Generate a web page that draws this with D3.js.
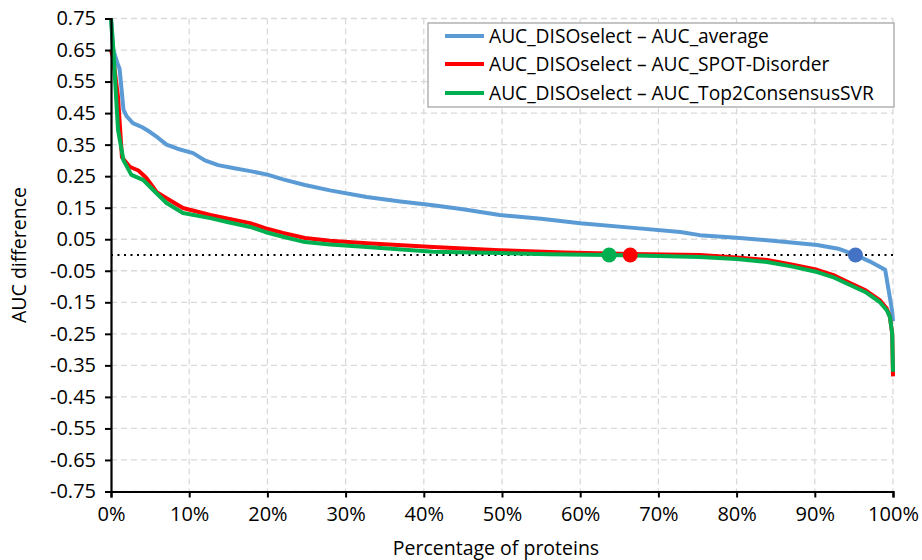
<!DOCTYPE html>
<html><head><meta charset="utf-8">
<script src="https://cdn.jsdelivr.net/npm/d3@7"></script>
<style>body{margin:0;background:#fff;} text{font-family:"Open Sans",sans-serif;fill:#000;}</style>
</head><body>
<svg id="chart" width="922" height="560"></svg>
<script>
// ---- data ----
const yTicks = [0.75,0.65,0.55,0.45,0.35,0.25,0.15,0.05,-0.05,-0.15,-0.25,-0.35,-0.45,-0.55,-0.65,-0.75];
const xTicks = [0,10,20,30,40,50,60,70,80,90,100];
const seriesNames = ["AUC_DISOselect – AUC_average","AUC_DISOselect – AUC_SPOT-Disorder","AUC_DISOselect – AUC_Top2ConsensusSVR"];
const seriesColors = ["#5B9BD5","#FF0000","#00B050"];
const dotColors = ["#4472C4","#FF0000","#00B050"];

const blueX = [0,0.3,0.8,1.1,1.6,2.0,2.8,4.0,5.0,6.0,7.1,8.5,10.5,12.0,13.7,15.6,17.8,20,22,24.8,28,32.7,37,41.2,45,49.7,55,60,66.8,72.8,75.3,80,83.9,87,90.3,93,95.2,97,99,99.5,99.9,100];
const blueY = [0.75,0.65,0.61,0.59,0.46,0.44,0.418,0.405,0.39,0.372,0.350,0.337,0.323,0.30,0.285,0.276,0.266,0.255,0.24,0.222,0.205,0.184,0.17,0.158,0.145,0.127,0.115,0.101,0.086,0.073,0.063,0.055,0.047,0.04,0.032,0.02,0.0,-0.02,-0.047,-0.12,-0.18,-0.21];

const redX = [0,0.3,0.9,1.4,2.4,3.5,4.5,5.9,7.1,9.2,12.7,15,17.8,19.7,22,24.8,28,32.7,41.2,49.7,58,66.4,75.3,80,83.9,87,90.3,92.5,94.5,96.5,98.3,99.2,99.6,99.9,100];
const redY = [0.65,0.62,0.50,0.31,0.28,0.268,0.245,0.198,0.18,0.149,0.127,0.115,0.101,0.085,0.07,0.054,0.045,0.037,0.025,0.015,0.008,0.003,0.0,-0.008,-0.016,-0.03,-0.047,-0.065,-0.089,-0.112,-0.143,-0.17,-0.196,-0.25,-0.385];

const greenX = [0,0.3,0.9,1.6,2.6,4.1,5.4,7.1,9.2,12.7,15,17.8,19.7,22,24.8,28,32.7,41.2,49.7,56,63.7,70,75.3,80,83.9,87,90.3,92.5,94.5,96.5,98.3,99.2,99.6,99.9,100];
const greenY = [0.75,0.65,0.396,0.30,0.254,0.238,0.206,0.165,0.133,0.117,0.104,0.089,0.073,0.058,0.041,0.033,0.025,0.01,0.006,0.002,0.0,-0.003,-0.006,-0.013,-0.022,-0.036,-0.054,-0.072,-0.095,-0.118,-0.149,-0.175,-0.196,-0.25,-0.37];

const dotX = [95.2,66.4,63.7];
const dotY = [0,0,0];

// ---- layout ----
const svg = d3.select("#chart");
const L = 111, R = 893, T = 18.5, B = 491.5;
const x = d3.scaleLinear().domain([0,100]).range([L,R]);
const y = d3.scaleLinear().domain([-0.75,0.75]).range([B,T]);

// grid
const grid = svg.append("g");
grid.selectAll("line.h").data(yTicks).join("line")
  .attr("x1",L).attr("x2",R).attr("y1",d=>y(d)).attr("y2",d=>y(d))
  .attr("stroke","#D9D9D9").attr("stroke-width",1.3).attr("stroke-dasharray","6,4");
grid.selectAll("line.v").data(xTicks.filter(d=>d>0)).join("line")
  .attr("x1",d=>x(d)).attr("x2",d=>x(d)).attr("y1",T).attr("y2",B)
  .attr("stroke","#D9D9D9").attr("stroke-width",1.3).attr("stroke-dasharray","6,4");

// zero dotted line
svg.append("line").attr("x1",L).attr("x2",R).attr("y1",y(0)).attr("y2",y(0))
  .attr("stroke","#000").attr("stroke-width",2).attr("stroke-dasharray","2,4.5");

// series
const series = [[blueX,blueY],[redX,redY],[greenX,greenY]];
const line = d3.line().x(d=>x(d[0])).y(d=>y(d[1]));
series.forEach((s,i)=>{
  const pts = s[0].map((v,j)=>[v,s[1][j]]);
  svg.append("path").datum(pts).attr("d",line).attr("fill","none")
    .attr("stroke",seriesColors[i]).attr("stroke-width",4).attr("stroke-linejoin","round");
});

// dots
svg.selectAll("circle.dot").data(dotX.map((v,i)=>[v,dotY[i],i])).join("circle")
  .attr("cx",d=>x(d[0])).attr("cy",d=>y(d[1])).attr("r",7.5).attr("fill",d=>dotColors[d[2]]);

// axes
const yAxis = d3.axisLeft(y).tickValues(yTicks).tickSize(6).tickFormat(d3.format(".2f"));
const gy = svg.append("g").attr("transform",`translate(${L},0)`).call(yAxis);
const xAxis = d3.axisBottom(x).tickValues(xTicks).tickSize(6).tickFormat(d=>d+"%");
const gx = svg.append("g").attr("transform",`translate(0,${B})`).call(xAxis);
[gx,gy].forEach(g=>{
  g.select(".domain").attr("stroke","#000").attr("stroke-width",2.2);
  g.selectAll(".tick line").attr("stroke","#000").attr("stroke-width",2);
  g.selectAll(".tick text").style("font-family","'Open Sans',sans-serif").style("font-size","20px").attr("fill","#000");
});
gy.selectAll(".tick text").attr("x",-15).text(d=>d3.format(".2f")(d).replace("−","-"));
gx.selectAll(".tick text").attr("y",15);

// axis titles
svg.append("text").attr("x",(L+R)/2-6).attr("y",555).attr("text-anchor","middle")
  .style("font-size","19.5px").text("Percentage of proteins");
svg.append("text").attr("transform",`translate(26,${(T+B)/2}) rotate(-90)`).attr("text-anchor","middle")
  .style("font-size","19.5px").text("AUC difference");

// legend
const lg = svg.append("g");
lg.append("rect").attr("x",428).attr("y",23).attr("width",466).attr("height",84)
  .attr("fill","#fff").attr("stroke","#A6A6A6").attr("stroke-width",1.3);
const rowsY = [36,64,93];
seriesNames.forEach((n,i)=>{
  lg.append("line").attr("x1",445).attr("x2",484).attr("y1",rowsY[i]).attr("y2",rowsY[i])
    .attr("stroke",seriesColors[i]).attr("stroke-width",4);
  lg.append("text").attr("x",489).attr("y",rowsY[i]).attr("dy","0.35em")
    .style("font-size","19.2px").text(n);
});
</script>
</body></html>
